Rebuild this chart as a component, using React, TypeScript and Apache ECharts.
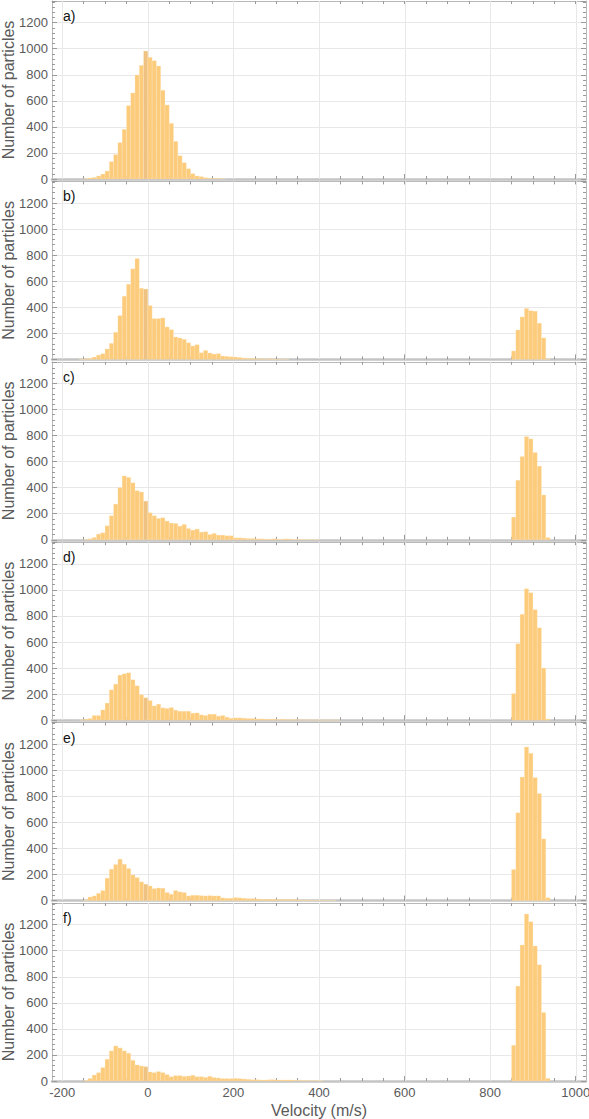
import React, { useEffect, useRef } from 'react';
import * as echarts from 'echarts';

// ---------- data ----------
const BIN_WIDTH = 10; // m/s
const PANEL_LABELS = ['a)', 'b)', 'c)', 'd)', 'e)', 'f)'];
const X_MAJOR_TICKS = [-200, 0, 200, 400, 600, 800, 1000];
const X_MINOR_TICKS = [-200, -150, -100, -50, 0, 50, 100, 150, 200, 250, 300, 350, 400, 450, 500, 550, 600, 650, 700, 750, 800, 850, 900, 950, 1000];
const Y_TICKS = [0, 200, 400, 600, 800, 1000, 1200];
const X_GRID_LINES = [-200, 0, 200, 400, 600, 800, 1000];
const X_MIN = -224;
const X_MAX = 1024;
const Y_MAX = 1366;

// left edge of the first bin of the slow population, per panel
const LOW_STARTS = [-150, -160, -150, -160, -150, -150];
// left edge of the first bin of the fast population
const HIGH_START = 850;

const A_LOW = [3, 8, 12, 23, 38, 61, 133, 187, 279, 381, 563, 660, 798, 872, 982, 934, 908, 867, 681, 568, 427, 289, 179, 125, 79, 41, 23, 18, 10, 5, 3, 5, 2];
const A_HIGH: number[] = [];

const B_LOW = [3, 5, 8, 18, 33, 44, 80, 123, 208, 336, 485, 577, 695, 774, 546, 540, 413, 313, 313, 318, 249, 228, 172, 164, 154, 128, 103, 113, 51, 69, 49, 41, 44, 26, 23, 20, 18, 15, 10, 8, 8, 5, 5, 3, 5, 3, 3, 2, 2];
const B_HIGH = [65, 226, 326, 391, 374, 370, 278, 165, 4];

const C_LOW = [3, 8, 18, 44, 54, 108, 185, 274, 400, 490, 479, 438, 377, 367, 297, 208, 185, 164, 169, 144, 128, 126, 105, 118, 87, 74, 82, 59, 62, 41, 49, 36, 36, 31, 31, 15, 15, 13, 10, 10, 8, 8, 5, 5, 8, 5, 5, 8, 5, 3, 3, 3, 2, 2, 2];
const C_HIGH = [174, 457, 639, 792, 774, 670, 565, 344, 17];

const D_LOW = [3, 8, 13, 36, 36, 79, 131, 233, 277, 346, 356, 364, 310, 264, 195, 172, 151, 110, 123, 95, 90, 97, 77, 69, 69, 69, 54, 56, 41, 36, 46, 46, 31, 36, 23, 15, 18, 18, 15, 13, 13, 10, 10, 8, 8, 8, 5, 8, 5, 5, 5, 3, 3, 3, 3, 2, 2, 2, 2, 2, 2];
const D_HIGH = [204, 587, 813, 1009, 979, 848, 709, 400, 9];

const E_LOW = [5, 28, 36, 56, 77, 172, 241, 277, 318, 279, 246, 197, 177, 144, 126, 113, 92, 97, 95, 62, 49, 77, 67, 62, 36, 41, 41, 38, 36, 38, 36, 36, 21, 18, 18, 23, 21, 18, 15, 15, 13, 10, 10, 10, 10, 8, 8, 8, 8, 8, 5, 5, 5, 3, 3, 3, 2, 2, 2];
const E_HIGH = [239, 674, 948, 1179, 1131, 944, 822, 474, 22];

const F_LOW = [5, 20, 46, 64, 103, 167, 231, 269, 254, 231, 213, 159, 123, 115, 110, 69, 64, 72, 64, 49, 33, 41, 41, 36, 38, 44, 33, 33, 28, 36, 26, 23, 18, 18, 18, 20, 18, 15, 13, 10, 10, 8, 8, 10, 10, 8, 8, 8, 8, 5, 5, 5, 3, 3, 3, 2];
const F_HIGH = [274, 728, 1044, 1282, 1223, 1036, 892, 526, 20];

const LOW_COUNTS = [A_LOW, B_LOW, C_LOW, D_LOW, E_LOW, F_LOW];
const HIGH_COUNTS = [A_HIGH, B_HIGH, C_HIGH, D_HIGH, E_HIGH, F_HIGH];

// ---------- style ----------
const FONT = '"Liberation Sans", Arial, Helvetica, sans-serif';
const BAR_COLOR = '#FCCB7C';
const BAR_DARK = '#EFC281';
const DARK_BIN = -10;
const GRID_COLOR = '#e8e8e8';
const FRAME_COLOR = '#b8b8b8';
const TICK_COLOR = '#9a9a9a';
const LABEL_COLOR = '#5a5a5a';

function toBins(start: number, counts: number[]): number[][] {
  return counts.map((c, i) => [start + i * BIN_WIDTH, c]);
}

const plain = (v: number) => String(v);

export default function App() {
  const ref = useRef<HTMLDivElement>(null);

  useEffect(() => {
    if (!ref.current) return;
    const chart = echarts.init(ref.current, null, { renderer: 'svg' });

    const grid: any[] = [];
    const xAxis: any[] = [];
    const yAxis: any[] = [];
    const series: any[] = [];
    const graphic: any[] = [];

    const PANEL_STRIDE = 180.4;
    const PANEL_HEIGHT = 178;

    for (let i = 0; i < 6; i++) {
      const top = 1 + PANEL_STRIDE * i;
      const isLast = i === 5;
      grid.push({
        left: 52,
        right: 3,
        top,
        height: PANEL_HEIGHT,
        containLabel: false,
        outerBoundsMode: 'none',
      });

      const baseX = {
        type: 'value',
        gridIndex: i,
        min: X_MIN,
        max: X_MAX,
        splitLine: { show: false },
      };
      // bottom axis: frame + major ticks + labels
      xAxis.push({
        ...baseX,
        position: 'bottom',
        axisLine: { show: true, onZero: false, lineStyle: { color: '#c4c4c4', width: 2.5 } },
        axisTick: { show: true, inside: true, length: 5, customValues: X_MAJOR_TICKS, lineStyle: { color: TICK_COLOR } },
        axisLabel: {
          show: isLast,
          customValues: X_MAJOR_TICKS,
          formatter: plain,
          color: LABEL_COLOR,
          fontSize: 13,
          fontFamily: FONT,
          margin: 5,
        },
        name: isLast ? 'Velocity (m/s)' : '',
        nameLocation: 'middle',
        nameGap: 21,
        nameMoveOverlap: false,
        nameTextStyle: { fontSize: 16, color: LABEL_COLOR, fontFamily: FONT },
      });
      // bottom minor ticks
      xAxis.push({
        ...baseX,
        position: 'bottom',
        axisLine: { show: false, onZero: false },
        axisTick: { show: true, inside: true, length: 3, customValues: X_MINOR_TICKS, lineStyle: { color: TICK_COLOR } },
        axisLabel: { show: false },
      });
      // top frame
      xAxis.push({
        ...baseX,
        position: 'top',
        axisLine: { show: true, onZero: false, lineStyle: { color: FRAME_COLOR, width: 1 } },
        axisTick: { show: true, inside: true, length: 3, customValues: X_MINOR_TICKS, lineStyle: { color: TICK_COLOR } },
        axisLabel: { show: false },
      });

      const baseY = {
        type: 'value',
        gridIndex: i,
        min: 0,
        max: Y_MAX,
        interval: 200,
      };
      yAxis.push({
        ...baseY,
        position: 'left',
        axisLine: { show: true, onZero: false, lineStyle: { color: FRAME_COLOR, width: 1 } },
        axisTick: { show: true, inside: true, length: 5, lineStyle: { color: TICK_COLOR } },
        minorTick: { show: true, splitNumber: 5, length: 3, lineStyle: { color: TICK_COLOR } },
        axisLabel: {
          customValues: Y_TICKS,
          formatter: plain,
          color: LABEL_COLOR,
          fontSize: 13,
          fontFamily: FONT,
          margin: 4,
        },
        splitLine: { show: true, lineStyle: { color: GRID_COLOR, width: 1 } },
        name: 'Number of particles',
        nameLocation: 'middle',
        nameGap: 36,
        nameMoveOverlap: false,
        nameTextStyle: { fontSize: 16, color: LABEL_COLOR, fontFamily: FONT },
      });
      yAxis.push({
        ...baseY,
        position: 'right',
        axisLine: { show: true, onZero: false, lineStyle: { color: FRAME_COLOR, width: 1 } },
        axisTick: { show: true, inside: true, length: 5, lineStyle: { color: TICK_COLOR } },
        minorTick: { show: true, splitNumber: 5, length: 3, lineStyle: { color: TICK_COLOR } },
        axisLabel: { show: false },
        splitLine: { show: false },
      });

      const xIdx = i * 3;
      const yIdx = i * 2;

      // vertical grid lines
      series.push({
        type: 'custom',
        xAxisIndex: xIdx,
        yAxisIndex: yIdx,
        silent: true,
        z: 1,
        data: X_GRID_LINES.map((x) => [x, 0]),
        encode: { x: 0, y: 1 },
        renderItem: (params: any, api: any) => {
          const x = api.value(0);
          const p0 = api.coord([x, 0]);
          const p1 = api.coord([x, Y_MAX]);
          return {
            type: 'line',
            shape: { x1: Math.round(p0[0]) + 0.5, y1: p0[1], x2: Math.round(p1[0]) + 0.5, y2: p1[1] },
            style: { stroke: GRID_COLOR, lineWidth: 1 },
          };
        },
      });

      // histogram bars
      const bins = [
        ...toBins(LOW_STARTS[i], LOW_COUNTS[i]),
        ...toBins(HIGH_START, HIGH_COUNTS[i]),
      ];
      series.push({
        type: 'custom',
        xAxisIndex: xIdx,
        yAxisIndex: yIdx,
        z: 2,
        data: bins,
        encode: { x: 0, y: 1 },
        renderItem: (params: any, api: any) => {
          const x0 = api.value(0);
          const v = api.value(1);
          const p0 = api.coord([x0, 0]);
          const p1 = api.coord([x0 + BIN_WIDTH, v]);
          return {
            type: 'rect',
            shape: { x: p0[0], y: p1[1], width: p1[0] - p0[0], height: p0[1] - p1[1] },
            style: {
              fill: x0 === DARK_BIN ? BAR_DARK : BAR_COLOR,
              stroke: 'rgba(255,236,200,0.55)',
              lineWidth: 0.5,
            },
          };
        },
      });

      graphic.push({
        type: 'text',
        left: 63,
        top: 9 + PANEL_STRIDE * i,
        z: 10,
        style: { text: PANEL_LABELS[i], fontSize: 14, fill: '#111', fontFamily: FONT },
      });
    }

    chart.setOption({
      animation: false,
      backgroundColor: '#ffffff',
      grid,
      xAxis,
      yAxis,
      series,
      graphic,
    });

    return () => {
      chart.dispose();
    };
  }, []);

  return (
    <div
      ref={ref}
      style={{ position: 'absolute', left: 0, top: 0, width: 589, height: 1119 }}
    />
  );
}
